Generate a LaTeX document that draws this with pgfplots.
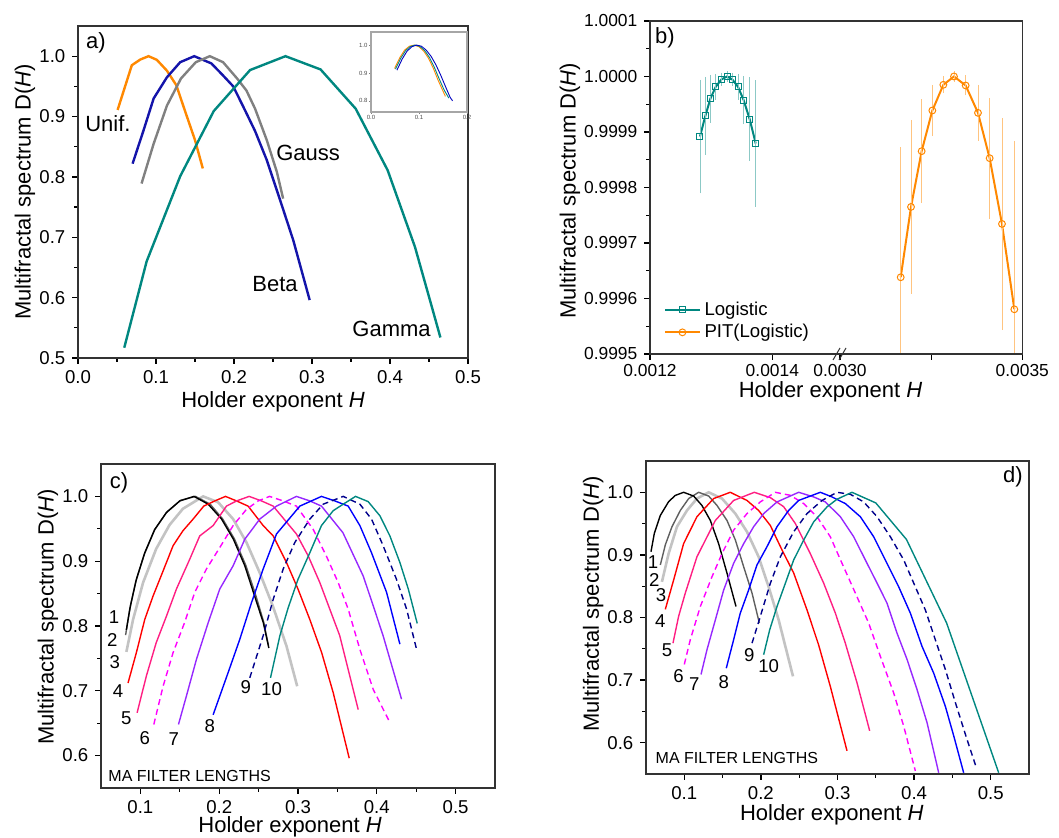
\documentclass[border=0pt]{standalone}
\usepackage{fontspec}
\setmainfont{Liberation Sans}
\usepackage{pgfplots}
\pgfplotsset{compat=1.18}

\definecolor{orng}{RGB}{255,136,0}
\definecolor{bnavy}{RGB}{20,20,170}
\definecolor{tealc}{RGB}{0,135,128}
\definecolor{gry}{RGB}{128,128,128}
\definecolor{dgry}{RGB}{95,95,95}
\definecolor{lgry}{RGB}{195,195,195}
\definecolor{pnk}{RGB}{255,30,130}
\definecolor{mag}{RGB}{255,0,255}
\definecolor{vio}{RGB}{150,40,255}
\definecolor{nvy}{RGB}{0,0,140}

\pgfplotsset{
  panel/.style={scale only axis, anchor=south west, tick align=outside, tick pos=left,
    major tick length=2.8pt, minor tick length=1.8pt,
    axis line style={line width=0.7pt, black!80},
    every tick/.style={black, line width=0.65pt},
    tick label style={font=\fontsize{9.3}{10}\selectfont},
    label style={font=\fontsize{11}{12}\selectfont},
    xticklabel={\pgfmathprintnumber[fixed,fixed zerofill,precision=1,assume math mode=true]{\tick}},
    yticklabel={\pgfmathprintnumber[fixed,fixed zerofill,precision=1,assume math mode=true]{\tick}},
    xlabel={Holder exponent \textit{H}},
    ylabel={Multifractal spectrum D(\textit{H})},
    minor tick num=1},
  mf/.style={line width=0.7pt, no marks},
}
\tikzset{num/.style={font=\fontsize{9.3}{10}\selectfont, inner sep=0pt}}

\begin{document}
\begin{tikzpicture}
\path[use as bounding box] (0,0) rectangle (529.5pt,419pt);

% ---------- a) ----------
\begin{axis}[panel, at={(39pt,240pt)}, width=195pt, height=166pt,
  xmin=0, xmax=0.5, ymin=0.5, ymax=1.05,
  xtick={0,0.1,0.2,0.3,0.4,0.5}, ytick={0.5,0.6,0.7,0.8,0.9,1.0},
  xlabel style={at={(axis description cs:0.5,-0.1325)}, anchor=center},
  ylabel style={at={(axis description cs:-0.136,0.5)}, anchor=center}]
% Unif.
\addplot[orng, line width=1.2pt] coordinates {
 (0.0508,0.911) (0.069,0.985) (0.080,0.9945) (0.0904,1.0) (0.101,0.994)
 (0.114,0.976) (0.126,0.952) (0.137,0.910) (0.150,0.861) (0.160,0.814)};
% Beta
\addplot[bnavy, line width=1.2pt] coordinates {
 (0.070,0.822) (0.084,0.877) (0.097,0.930) (0.114,0.965) (0.131,0.990)
 (0.149,1.0) (0.171,0.988) (0.186,0.968) (0.199,0.950) (0.212,0.916)
 (0.227,0.876) (0.242,0.828) (0.259,0.762) (0.276,0.695) (0.297,0.596)};
% Gauss
\addplot[gry, line width=1.2pt] coordinates {
 (0.0815,0.789) (0.097,0.855) (0.114,0.918) (0.132,0.963) (0.151,0.990)
 (0.169,1.0) (0.186,0.990) (0.204,0.963) (0.216,0.943) (0.227,0.913)
 (0.242,0.861) (0.255,0.808) (0.263,0.764)};
% Gamma
\addplot[tealc, line width=1.2pt] coordinates {
 (0.0593,0.517) (0.088,0.660) (0.131,0.801) (0.174,0.909) (0.2206,0.977)
 (0.266,1.0) (0.311,0.978) (0.356,0.913) (0.397,0.811) (0.432,0.684)
 (0.454,0.583) (0.4646,0.534)};
\node[font=\fontsize{11}{12}\selectfont] at (axis cs:0.0384,0.889) {Unif.};
\node[font=\fontsize{11}{12}\selectfont] at (axis cs:0.295,0.839) {Gauss};
\node[font=\fontsize{11}{12}\selectfont] at (axis cs:0.2526,0.623) {Beta};
\node[font=\fontsize{11}{12}\selectfont] at (axis cs:0.402,0.548) {Gamma};
\node[font=\fontsize{11}{12}\selectfont] at (axis description cs:0.046,0.949) {a)};
\end{axis}

% inset
\begin{axis}[at={(185.5pt,363pt)}, anchor=south west, scale only axis, width=48pt, height=40pt,
  xmin=0, xmax=0.2, ymin=0.76, ymax=1.047,
  xtick={0,0.1,0.2}, ytick={0.8,0.9,1.0},
  axis background/.style={fill=white},
  axis line style={gray!70, line width=0.6pt},
  every tick/.style={gray, line width=0.3pt}, major tick length=1pt, tick align=outside, tick pos=left,
  tick label style={font=\fontsize{3}{3}\selectfont, text=black!70, inner sep=0.6pt},
  xticklabel={\pgfmathprintnumber[fixed,fixed zerofill,precision=1,assume math mode=true]{\tick}},
  yticklabel={\pgfmathprintnumber[fixed,fixed zerofill,precision=1,assume math mode=true]{\tick}}]
\addplot[orng, line width=0.45pt] coordinates {
 (0.049,0.916) (0.06,0.955) (0.07,0.982) (0.08,0.996) (0.09,1.0) (0.10,0.994)
 (0.11,0.978) (0.12,0.952) (0.13,0.916) (0.14,0.873) (0.155,0.816)};
\addplot[tealc, line width=0.45pt] coordinates {
 (0.051,0.914) (0.062,0.953) (0.072,0.98) (0.082,0.995) (0.092,1.0) (0.102,0.995)
 (0.112,0.98) (0.122,0.955) (0.132,0.92) (0.142,0.879) (0.152,0.84) (0.162,0.81)};
\addplot[blue!75!black, line width=0.45pt] coordinates {
 (0.054,0.91) (0.065,0.95) (0.075,0.978) (0.085,0.994) (0.095,1.0) (0.105,0.996)
 (0.115,0.982) (0.125,0.96) (0.135,0.93) (0.145,0.893) (0.155,0.852) (0.165,0.812) (0.170,0.80)};
\end{axis}

% ---------- b) ----------
\begin{axis}[panel, at={(325pt,242pt)}, width=93.35pt, height=166.5pt,
  xmin=0.0012, xmax=0.0015052, ymin=0.9995, ymax=1.0001,
  axis line style={draw=none}, scaled ticks=false, minor x tick num=0,
  tick label style={font=\fontsize{8.7}{9}\selectfont},
  x tick label style={inner sep=0.8pt, yshift=-1.2pt},
  xtick={0.0012,0.0014}, xticklabels={0.0012,0.0014},
  ytick={0.9995,0.9996,0.9997,0.9998,0.9999,1.0,1.0001},
  yticklabels={0.9995,0.9996,0.9997,0.9998,0.9999,1.0000,1.0001},
  xlabel={},
  ylabel style={at={(axis description cs:-0.4285,0.49)}, anchor=center},
  legend style={at={(axis description cs:0.064,0.021)}, anchor=south west, draw=none, fill=none,
    font=\fontsize{9.3}{10}\selectfont, row sep=-1pt, inner sep=1pt},
  legend cell align=left]
\addlegendimage{tealc, line width=1pt, mark=square, mark size=1.5pt, mark options={fill=white, line width=0.5pt}}
\addlegendentry{Logistic}
\addlegendimage{orng, line width=1pt, mark=o, mark size=1.7pt, mark options={fill=white, line width=0.5pt}}
\addlegendentry{PIT(Logistic)}
\addplot[tealc, line width=1pt, mark=square, mark size=1.5pt, mark options={fill=white, line width=0.5pt},
  error bars/.cd, y dir=both, y explicit,
  error bar style={tealc!45, line width=0.4pt},
  error mark options={tealc!45, line width=0.4pt, mark size=2pt}] coordinates {
 (0.0012817,0.9998918) +- (0,0.0000950)
 (0.0012905,0.9999291) +- (0,0.0000630)
 (0.0012986,0.9999597) +- (0,0.0000360)
 (0.0013074,0.9999814) +- (0,0.0000160)
 (0.0013166,0.9999946) +- (0,0.0000050)
 (0.0013259,1.0000000) +- (0,0.0000020)
 (0.0013346,0.9999946) +- (0,0.0000050)
 (0.0013439,0.9999814) +- (0,0.0000160)
 (0.0013531,0.9999573) +- (0,0.0000360)
 (0.0013629,0.9999231) +- (0,0.0000680)
 (0.0013728,0.9998792) +- (0,0.0001070)};
\end{axis}

\begin{axis}[panel, at={(418.35pt,242pt)}, width=92.8pt, height=166.5pt,
  xmin=0.0029909, xmax=0.0035, ymin=0.9995, ymax=1.0001,
  axis line style={draw=none}, scaled ticks=false, minor x tick num=0,
  tick label style={font=\fontsize{8.7}{9}\selectfont},
  x tick label style={inner sep=0.8pt, yshift=-1.2pt},
  xtick={0.0030,0.00325,0.0035}, xticklabels={0.0030,,0.0035},
  ytick=\empty, xlabel={}, ylabel={}]
\addplot[orng, line width=1pt, mark=o, mark size=1.7pt, mark options={fill=white, line width=0.5pt},
  error bars/.cd, y dir=both, y explicit,
  error bar style={orng!50, line width=0.4pt},
  error mark options={orng!50, line width=0.4pt, mark size=2pt}] coordinates {
 (0.0031664,0.9996382) +- (0,0.0002272)
 (0.0031947,0.9997650) +- (0,0.0001496)
 (0.0032239,0.9998654) +- (0,0.0000865)
 (0.0032532,0.9999387) +- (0,0.0000390)
 (0.0032834,0.9999850) +- (0,0.0000084)
 (0.0033126,1.0000000) +- (0,0.0000020)
 (0.0033446,0.9999838) +- (0,0.0000108)
 (0.0033784,0.9999345) +- (0,0.0000433)
 (0.0034104,0.9998528) +- (0,0.0001016)
 (0.0034442,0.9997344) +- (0,0.0001839)
 (0.0034781,0.9995805) +- (0,0.0002963)};
\end{axis}
\draw[line width=0.7pt, black!80] (325pt,242pt) rectangle (511.15pt,408.5pt);
\draw[line width=0.5pt, black!80] (416.5pt,239pt)--(420pt,245pt) (419.5pt,239pt)--(423pt,245pt);
\node[font=\fontsize{11}{12}\selectfont, inner sep=0pt] at (415.25pt,223pt) {Holder exponent \textit{H}};
\node[font=\fontsize{11}{12}\selectfont] at (332.5pt,400pt) {b)};

% ---------- c) ----------
\begin{axis}[panel, at={(50.5pt,25pt)}, width=197pt, height=162pt,
  xmin=0.05, xmax=0.55, ymin=0.55, ymax=1.05,
  xtick={0.1,0.2,0.3,0.4,0.5}, ytick={0.6,0.7,0.8,0.9,1.0},
  xlabel style={at={(axis description cs:0.48,-0.12)}, anchor=center},
  ylabel style={at={(axis description cs:-0.1345,0.528)}, anchor=center}]
\addplot[mf, lgry, line width=1.3pt] coordinates {
 (0.0822,0.760) (0.0907,0.810) (0.1034,0.867) (0.120,0.919) (0.137,0.956) (0.154,0.981)
 (0.1796,1.0) (0.1986,0.991) (0.2177,0.965) (0.2346,0.929) (0.2515,0.882) (0.268,0.831)
 (0.2854,0.769) (0.299,0.707)};
\addplot[mf, dgry] coordinates {
 (0.0812,0.786) (0.0865,0.826) (0.094,0.868) (0.1048,0.910) (0.1178,0.948) (0.1335,0.976)
 (0.151,0.994) (0.170,1.0) (0.1885,0.988) (0.2045,0.965) (0.2195,0.934) (0.234,0.893)
 (0.2465,0.847) (0.2565,0.806) (0.2625,0.770)};
\addplot[mf, black] coordinates {
 (0.0822,0.794) (0.0873,0.831) (0.0949,0.872) (0.1055,0.913) (0.1182,0.949) (0.133,0.975)
 (0.150,0.993) (0.168,1.0) (0.186,0.988) (0.203,0.965) (0.218,0.934) (0.2325,0.893)
 (0.245,0.846) (0.256,0.805) (0.263,0.766)};
\addplot[mf, red] coordinates {
 (0.0843,0.712) (0.0949,0.759) (0.1055,0.810) (0.116,0.846) (0.1288,0.885) (0.1415,0.924)
 (0.154,0.947) (0.1669,0.965) (0.1804,0.985) (0.1944,0.993) (0.208,1.0) (0.222,0.993)
 (0.2367,0.985) (0.2558,0.955) (0.2685,0.939) (0.2854,0.898) (0.300,0.857) (0.315,0.810)
 (0.330,0.759) (0.3447,0.697) (0.365,0.596)};
\addplot[mf, pnk] coordinates {
 (0.0958,0.666) (0.1076,0.723) (0.120,0.774) (0.133,0.815) (0.1457,0.857) (0.1626,0.903)
 (0.1753,0.939) (0.1923,0.955) (0.2092,0.985) (0.222,0.993) (0.238,1.0) (0.2537,0.993)
 (0.2685,0.985) (0.298,0.942) (0.313,0.908) (0.3277,0.867) (0.353,0.785) (0.3764,0.671)};
\addplot[mf, mag, dash pattern=on 3pt off 2pt] coordinates {
 (0.117,0.648) (0.1288,0.707) (0.1415,0.759) (0.156,0.805) (0.169,0.852) (0.1838,0.888)
 (0.2007,0.921) (0.2177,0.955) (0.2346,0.980) (0.2494,0.993) (0.264,1.0) (0.2812,0.993)
 (0.298,0.985) (0.3193,0.949) (0.336,0.908) (0.351,0.867) (0.3637,0.826) (0.3785,0.764)
 (0.3955,0.702) (0.4158,0.653)};
\addplot[mf, vio] coordinates {
 (0.1483,0.648) (0.1584,0.692) (0.171,0.748) (0.186,0.805) (0.2007,0.857) (0.2177,0.893)
 (0.2325,0.934) (0.2515,0.965) (0.2727,0.985) (0.298,1.0) (0.315,0.993) (0.3298,0.985)
 (0.357,0.944) (0.3828,0.877) (0.3955,0.831) (0.408,0.785) (0.4314,0.687)};
\addplot[mf, blue] coordinates {
 (0.1923,0.663) (0.2113,0.728) (0.226,0.779) (0.241,0.836) (0.2558,0.888) (0.2727,0.942)
 (0.3023,0.985) (0.3298,1.0) (0.3468,0.993) (0.3637,0.985) (0.3785,0.955) (0.3933,0.913)
 (0.4124,0.852) (0.4293,0.772)};
\addplot[mf, nvy, dash pattern=on 3pt off 2pt] coordinates {
 (0.2388,0.720) (0.2558,0.785) (0.2685,0.841) (0.2812,0.888) (0.296,0.929) (0.315,0.965)
 (0.332,0.988) (0.3574,1.0) (0.3785,0.988) (0.3933,0.965) (0.408,0.924) (0.425,0.872)
 (0.4378,0.826) (0.4505,0.764)};
\addplot[mf, tealc] coordinates {
 (0.2651,0.720) (0.277,0.785) (0.2875,0.828) (0.300,0.872) (0.315,0.913) (0.3298,0.955)
 (0.3447,0.978) (0.3574,0.988) (0.373,1.0) (0.389,0.992) (0.404,0.970) (0.4166,0.939)
 (0.4293,0.898) (0.440,0.857) (0.4513,0.804)};
\node[num] at (axis cs:0.0666,0.8144) {1};
\node[num] at (axis cs:0.0644,0.778) {2};
\node[num] at (axis cs:0.0674,0.745) {3};
\node[num] at (axis cs:0.0716,0.699) {4};
\node[num] at (axis cs:0.0822,0.657) {5};
\node[num] at (axis cs:0.1055,0.627) {6};
\node[num] at (axis cs:0.1423,0.625) {7};
\node[num] at (axis cs:0.188,0.646) {8};
\node[num] at (axis cs:0.2338,0.705) {9};
\node[num] at (axis cs:0.2664,0.702) {10};
\node[font=\fontsize{8}{9}\selectfont, anchor=west, inner sep=0pt] at (axis cs:0.059,0.568) {MA FILTER LENGTHS};
\node[font=\fontsize{11}{12}\selectfont] at (axis description cs:0.0457,0.941) {c)};
\end{axis}

% ---------- d) ----------
\begin{axis}[panel, at={(323pt,32pt)}, width=191.5pt, height=156.5pt,
  xmin=0.05, xmax=0.55, ymin=0.55, ymax=1.05,
  xtick={0.1,0.2,0.3,0.4,0.5}, ytick={0.6,0.7,0.8,0.9,1.0},
  xlabel style={at={(axis description cs:0.485,-0.131)}, anchor=center},
  ylabel style={at={(axis description cs:-0.138,0.543)}, anchor=center}]
\addplot[mf, lgry, line width=1.3pt] coordinates {
 (0.0708,0.857) (0.0795,0.902) (0.0904,0.945) (0.1035,0.971) (0.1165,0.990) (0.1318,1.0)
 (0.1492,0.990) (0.1666,0.966) (0.1818,0.937) (0.197,0.897) (0.2101,0.849) (0.2232,0.796)
 (0.2319,0.754) (0.2419,0.706)};
\addplot[mf, dgry] coordinates {
 (0.0687,0.884) (0.0752,0.916) (0.0839,0.945) (0.0948,0.971) (0.1057,0.990) (0.1187,1.0)
 (0.1318,0.994) (0.1427,0.979) (0.1557,0.955) (0.1666,0.924) (0.1775,0.881) (0.1884,0.839)
 (0.198,0.791)};
\addplot[mf, black] coordinates {
 (0.0565,0.905) (0.0608,0.934) (0.0687,0.963) (0.0795,0.985) (0.0882,0.995) (0.0991,1.0)
 (0.1122,0.994) (0.123,0.979) (0.134,0.955) (0.1448,0.918) (0.1557,0.871) (0.1675,0.8175)};
\addplot[mf, red] coordinates {
 (0.0752,0.813) (0.0861,0.860) (0.0991,0.918) (0.1165,0.961) (0.1383,0.990) (0.160,1.0)
 (0.1818,0.987) (0.197,0.971) (0.2123,0.947) (0.2275,0.908) (0.2428,0.871) (0.2602,0.812)
 (0.2754,0.756) (0.2906,0.690) (0.3124,0.587)};
\addplot[mf, pnk] coordinates {
 (0.0852,0.759) (0.0926,0.802) (0.1013,0.839) (0.1165,0.897) (0.1405,0.955) (0.1644,0.987)
 (0.1914,1.0) (0.2123,0.9915) (0.2297,0.977) (0.245,0.950) (0.2645,0.902) (0.2819,0.855)
 (0.2972,0.807) (0.3102,0.759) (0.3255,0.6955) (0.342,0.619)};
\addplot[mf, mag, dash pattern=on 3pt off 2pt] coordinates {
 (0.1,0.725) (0.1078,0.7645) (0.1209,0.8175) (0.1361,0.865) (0.1492,0.902) (0.1644,0.9395)
 (0.1818,0.966) (0.1992,0.9846) (0.2188,1.0) (0.2384,0.9952) (0.2558,0.982) (0.2732,0.961)
 (0.2906,0.929) (0.3059,0.8865) (0.3233,0.839) (0.3407,0.791) (0.3559,0.738) (0.3733,0.6796)
 (0.3864,0.6265) (0.4016,0.555)};
\addplot[mf, vio] coordinates {
 (0.1218,0.709) (0.1296,0.7485) (0.1405,0.796) (0.1514,0.844) (0.1644,0.8865) (0.1775,0.918)
 (0.1905,0.945) (0.2036,0.966) (0.221,0.9846) (0.2493,1.0) (0.2689,0.9926) (0.2841,0.9846)
 (0.3037,0.961) (0.3211,0.929) (0.3363,0.892) (0.3516,0.855) (0.3646,0.823) (0.3777,0.775)
 (0.3908,0.733) (0.4038,0.685) (0.4169,0.632) (0.4321,0.552)};
\addplot[mf, blue] coordinates {
 (0.1548,0.719) (0.1644,0.7645) (0.1731,0.807) (0.184,0.844) (0.1949,0.884) (0.2079,0.913)
 (0.221,0.945) (0.2362,0.971) (0.2493,0.987) (0.2776,1.0) (0.2928,0.9926) (0.3102,0.982)
 (0.3298,0.961) (0.3472,0.929) (0.3646,0.8865) (0.3799,0.849) (0.3951,0.807) (0.4103,0.754)
 (0.4256,0.711) (0.4408,0.658) (0.4517,0.611) (0.4647,0.552)};
\addplot[mf, nvy, dash pattern=on 3pt off 2pt] coordinates {
 (0.1884,0.759) (0.1992,0.8016) (0.2123,0.8546) (0.2254,0.897) (0.2428,0.937) (0.2602,0.966)
 (0.2798,0.987) (0.2993,1.0) (0.3168,0.9968) (0.3342,0.9846) (0.3516,0.961) (0.369,0.929)
 (0.3864,0.892) (0.4016,0.849) (0.4147,0.812) (0.4277,0.7645) (0.4408,0.717) (0.4539,0.664)
 (0.4691,0.605) (0.4813,0.560)};
\addplot[mf, tealc] coordinates {
 (0.2036,0.7406) (0.2114,0.780) (0.221,0.8175) (0.2319,0.8546) (0.2428,0.892) (0.2558,0.9236)
 (0.2689,0.9528) (0.2863,0.9767) (0.2993,0.9889) (0.3189,1.0) (0.350,0.983) (0.390,0.9247)
 (0.4425,0.791) (0.5104,0.552)};
\node[num] at (axis cs:0.0591,0.8885) {1};
\node[num] at (axis cs:0.0608,0.8606) {2};
\node[num] at (axis cs:0.0695,0.835) {3};
\node[num] at (axis cs:0.0687,0.7936) {4};
\node[num] at (axis cs:0.0774,0.7485) {5};
\node[num] at (axis cs:0.0926,0.706) {6};
\node[num] at (axis cs:0.1131,0.693) {7};
\node[num] at (axis cs:0.1514,0.6966) {8};
\node[num] at (axis cs:0.1849,0.7406) {9};
\node[num] at (axis cs:0.2101,0.722) {10};
\node[font=\fontsize{8}{9}\selectfont, anchor=west, inner sep=0pt] at (axis cs:0.0621,0.576) {MA FILTER LENGTHS};
\node[font=\fontsize{11}{12}\selectfont] at (axis description cs:0.958,0.949) {d)};
\end{axis}
\end{tikzpicture}
\end{document}
